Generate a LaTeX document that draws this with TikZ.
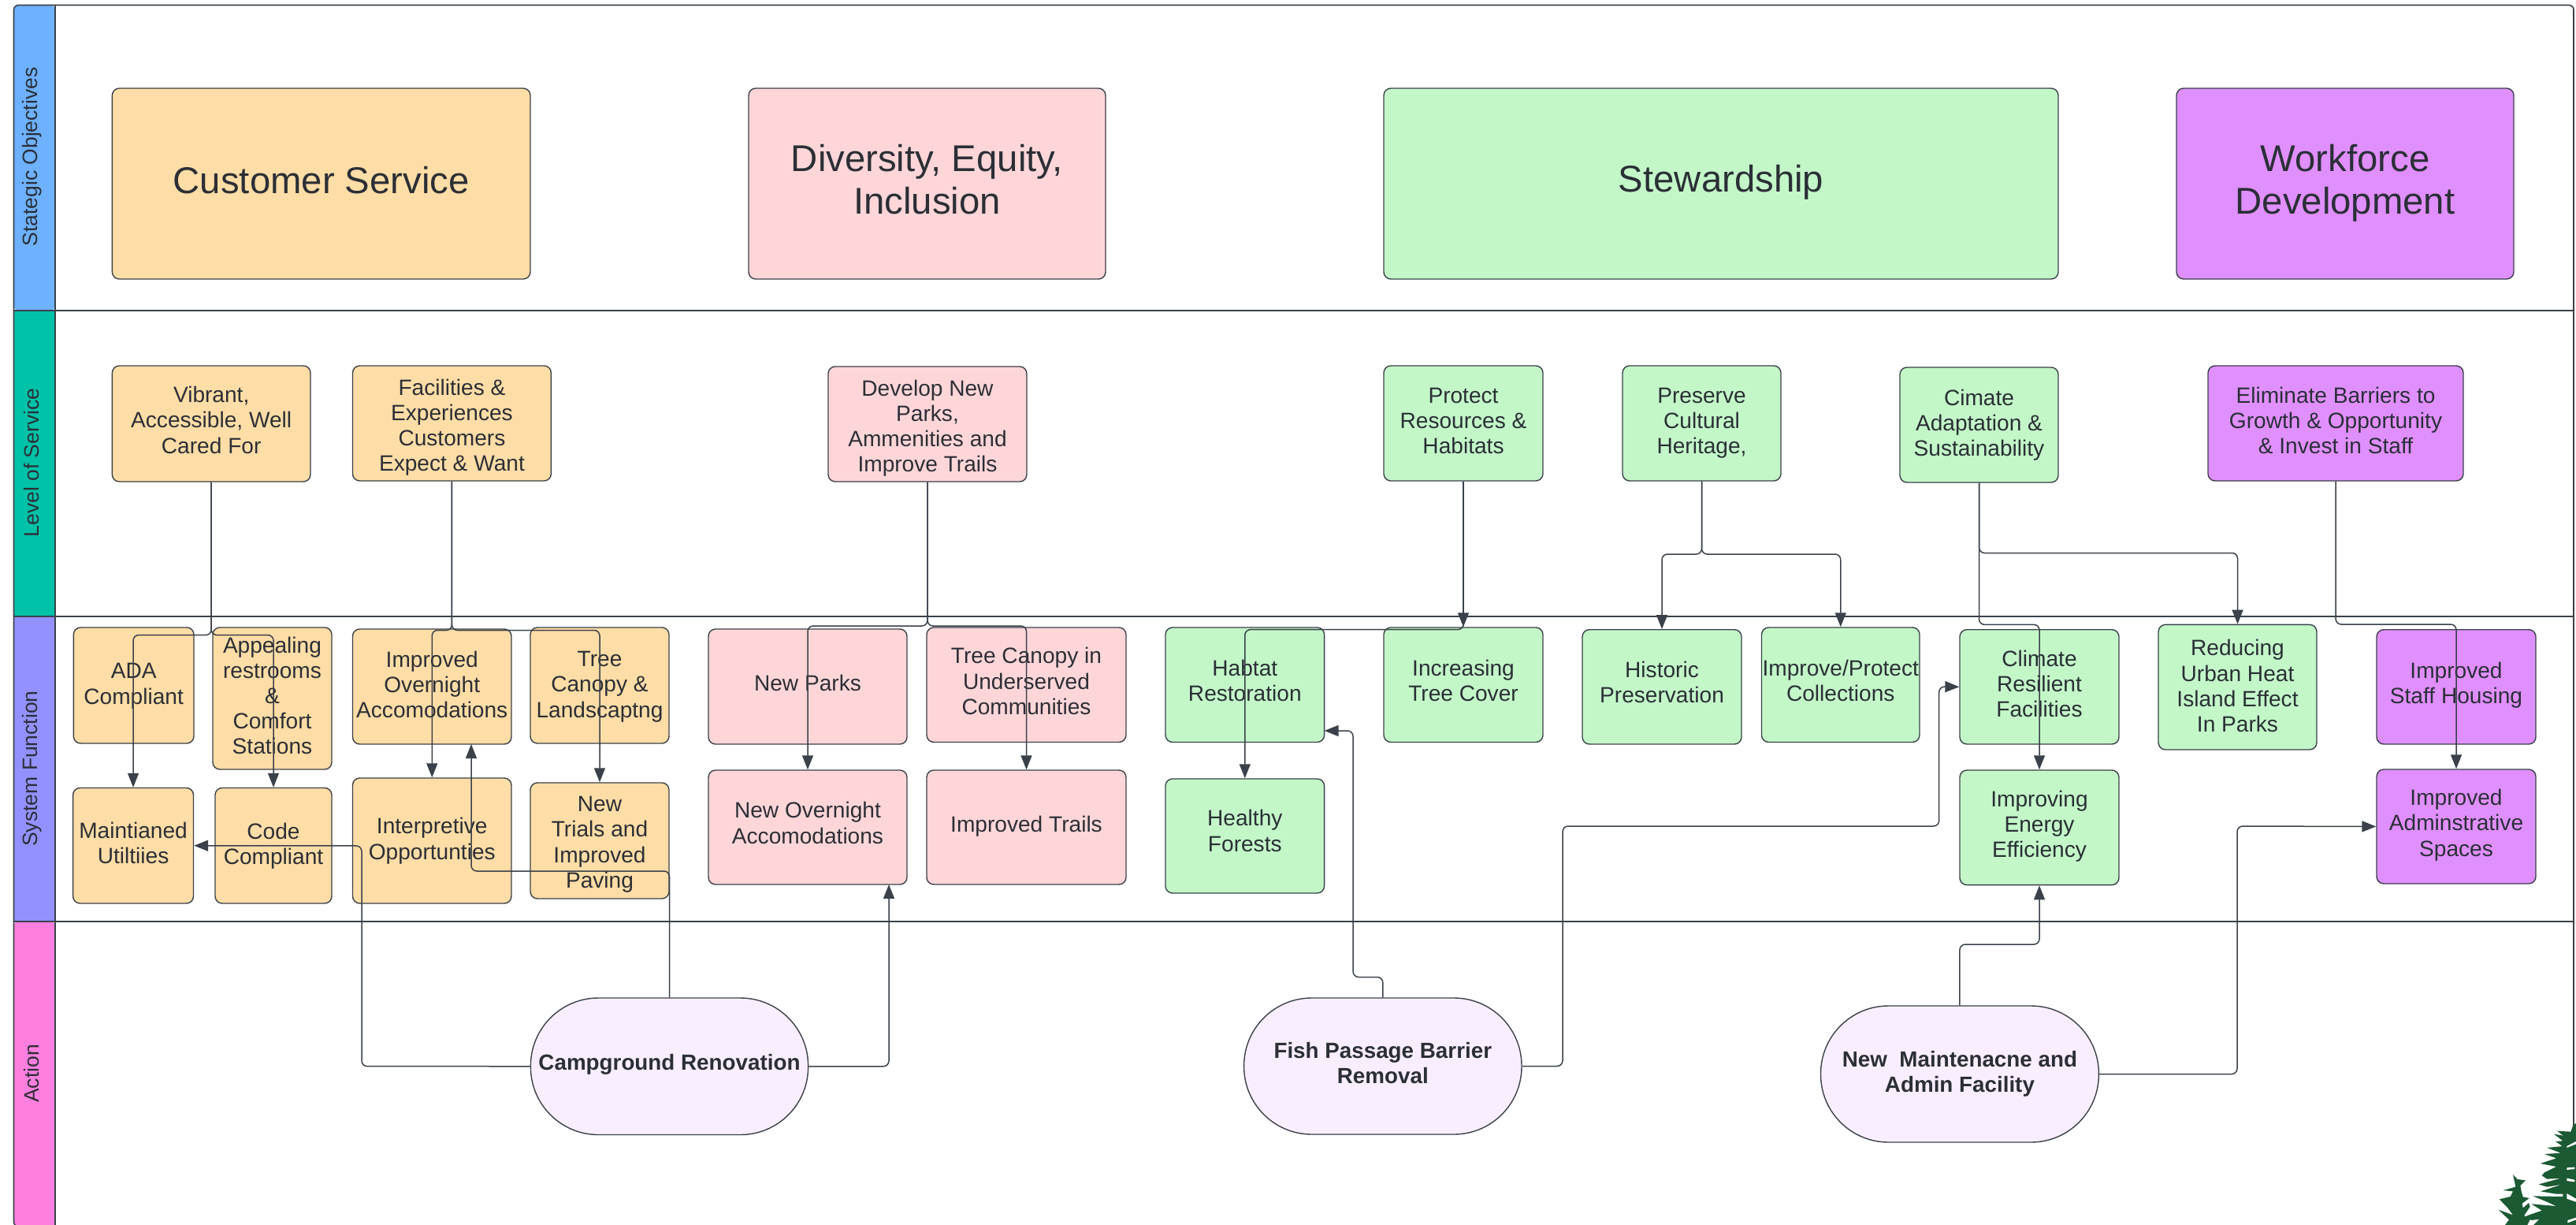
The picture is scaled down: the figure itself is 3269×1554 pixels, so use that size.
\documentclass[tikz,border=0pt]{standalone}
\usepackage{fontspec}
\setmainfont{Liberation Sans}
\usetikzlibrary{arrows.meta}
\definecolor{ink}{HTML}{3A414A}
\definecolor{txt}{HTML}{2B2F36}
\definecolor{orangefill}{HTML}{FFDDA6}
\definecolor{pinkfill}{HTML}{FFD6D8}
\definecolor{greenfill}{HTML}{C3F7C8}
\definecolor{purplefill}{HTML}{E08FFF}
\definecolor{ovalfill}{HTML}{F9EEFF}
\definecolor{laneblue}{HTML}{6DB1FF}
\definecolor{lanegreen}{HTML}{00C2A8}
\definecolor{lanepurple}{HTML}{9391FF}
\definecolor{lanepink}{HTML}{FF7FDF}
\definecolor{treegreen}{HTML}{1B5A33}
\tikzset{
  tup/.store in=\tupval, tup=0,
  card/.style={draw=ink,line width=1.4pt,rounded corners=9pt,inner sep=0pt,text=txt,font=\fontsize{28.1}{32.2}\selectfont},
  bigcard/.style={card,font=\fontsize{47.3}{53.5}\selectfont},
  orbox/.style={card,fill=orangefill},
  pkbox/.style={card,fill=pinkfill},
  grbox/.style={card,fill=greenfill},
  pubox/.style={card,fill=purplefill},
  orbig/.style={bigcard,fill=orangefill},
  pkbig/.style={bigcard,fill=pinkfill},
  grbig/.style={bigcard,fill=greenfill},
  pubig/.style={bigcard,fill=purplefill},
  ovalbox/.style={draw=ink,line width=1.4pt,rounded corners=86pt,inner sep=0pt,fill=ovalfill,text=txt,font=\fontsize{27.8}{32}\selectfont\bfseries},
  lanelabel/.style={rotate=90,text=txt,inner sep=0pt,font=\fontsize{26.5}{30}\selectfont},
  laneline/.style={draw=ink,line width=1.6pt},
  wire/.style={draw=ink,line width=1.5pt,rounded corners=7pt},
  arrowwire/.style={wire,-{Triangle[length=18pt,width=14pt]}},
}
\newcommand{\bx}[7]{\node[#6,minimum width={#4pt-#2pt},minimum height={#5pt-#3pt}] (#1) at ({(#2+#4)/2},{(#3+#5)/2}) {\raisebox{\tupval pt}[\height][\depth]{\begin{tabular}{@{}c@{}}#7\end{tabular}}};}
\begin{document}
\begin{tikzpicture}[x=1pt,y=-1pt]
\useasboundingbox (0,0) rectangle (3269,1554);
% lanes
\fill[laneblue,rounded corners=6pt] (17.5,394) |- (70,6.5) -- (70,394) -- cycle;
\fill[lanegreen] (17.5,394) rectangle (70,782);
\fill[lanepurple] (17.5,782) rectangle (70,1169);
\fill[lanepink,rounded corners=6pt] (17.5,1169) |- (70,1556) -- (70,1169) -- cycle;
\draw[laneline,rounded corners=6pt] (17.5,1556) -- (17.5,6.5) -- (3266,6.5) -- (3266,1556) -- cycle;
\draw[laneline] (70,6.5) -- (70,1556);
\draw[laneline] (17.5,394) -- (3266,394);
\draw[laneline] (17.5,782) -- (3266,782);
\draw[laneline] (17.5,1169) -- (3266,1169);
\node[lanelabel] (l1) at (40.5,199) {Stategic Objectives};
\node[lanelabel] (l2) at (40.5,587) {Level of Service};
\node[lanelabel] (l3) at (40.5,975) {System Function};
\node[lanelabel] (l4) at (40.5,1362) {Action};
% tree
\begin{scope}[shift={(3129,1404)},x=0.3333pt,y=-0.3333pt]
\clip (0,0) rectangle (420,450);
\fill[treegreen] (420,62) -- (408,72) -- (400,95) -- (348,92) -- (372,110) -- (336,104) -- (370,130) -- (342,132) -- (368,150) -- (310,156) -- (362,176) -- (300,180) -- (345,196) -- (284,216) -- (345,228) -- (300,250) -- (290,262) -- (310,275) -- (362,272) -- (278,295) -- (310,305) -- (365,296) -- (285,322) -- (345,332) -- (370,332) -- (370,342) -- (256,340) -- (300,358) -- (345,378) -- (250,370) -- (290,395) -- (232,415) -- (250,432) -- (280,428) -- (258,450) -- (420,450) -- cycle;
\fill[white] (385,150) -- (420,132) -- (420,142) -- (385,156) -- cycle;
\fill[white] (385,232) -- (415,230) -- (415,237) -- (385,240) -- cycle;
\fill[white] (385,272) -- (415,278) -- (415,286) -- (385,282) -- cycle;
\fill[white] (385,330) -- (420,350) -- (420,362) -- (385,350) -- cycle;
\fill[white] (388,432) -- (420,422) -- (420,430) -- (388,442) -- cycle;
\fill[treegreen] (180,258) -- (197,276) -- (228,280) -- (208,300) -- (212,322) -- (218,343) -- (242,348) -- (215,368) -- (218,385) -- (240,366) -- (245,380) -- (222,415) -- (250,420) -- (235,450) -- (150,450) -- (165,430) -- (125,392) -- (180,412) -- (160,385) -- (128,352) -- (170,342) -- (180,322) -- (142,318) -- (190,305) -- cycle;
\end{scope}
% strategic objectives
\bx{cs}{142.4}{112}{673}{354}{orbig,tup=-2}{Customer Service}
\bx{dei}{950}{112}{1403}{354}{pkbig,tup=-1}{Diversity, Equity,\\Inclusion}
\bx{stew}{1756}{112}{2612}{354}{grbig,tup=0}{Stewardship}
\bx{wf}{2762}{112}{3190}{354}{pubig,tup=-1}{Workforce\\Development}
% level of service
\bx{vib}{142.4}{464}{394}{611}{orbox,tup=1}{Vibrant,\\Accessible, Well\\Cared For}
\bx{fac}{447.5}{464}{699.4}{610}{orbox,tup=-6}{Facilities \&\\Experiences\\Customers\\Expect \& Want}
\bx{dev}{1051}{465}{1303}{611}{pkbox,tup=-6}{Develop New\\Parks,\\Ammenities and\\Improve Trails}
\bx{pro}{1756}{464}{1958}{610}{grbox,tup=0}{Protect\\Resources \&\\Habitats}
\bx{pre}{2059}{464}{2260}{610}{grbox,tup=0}{Preserve\\Cultural\\Heritage,}
\bx{cim}{2411}{466}{2612}{612}{grbox,tup=-1}{Cimate\\Adaptation \&\\Sustainability}
\bx{eli}{2802}{464}{3126}{610}{pubox,tup=0}{Eliminate Barriers to\\Growth \& Opportunity\\\& Invest in Staff}
% system function
\bx{ada}{93.3}{796}{246}{943}{orbox,tup=-1}{ADA\\Compliant}
\bx{app}{270}{796}{421}{976}{orbox,tup=0}{Appealing\\restrooms\\\&\\Comfort\\Stations}
\bx{ion}{447.5}{798}{649}{944}{orbox,tup=-1}{Improved\\Overnight\\Accomodations}
\bx{tre}{673}{796}{849}{943}{orbox,tup=-2}{Tree\\Canopy \&\\Landscaptng}
\bx{mai}{92.6}{999.5}{245.5}{1146}{orbox,tup=0}{Maintianed\\Utiltiies}
\bx{cod}{273}{999.5}{421}{1146}{orbox,tup=-1}{Code\\Compliant}
\bx{int}{447.5}{987}{649}{1146}{orbox,tup=-1}{Interpretive\\Opportunties}
\bx{ntr}{673}{993}{849}{1140}{orbox,tup=-5}{New\\Trials and\\Improved\\Paving}
\bx{npa}{899}{798}{1151}{944}{pkbox,tup=1}{New Parks}
\bx{nov}{899}{977}{1151}{1122}{pkbox,tup=2}{New Overnight\\Accomodations}
\bx{tci}{1176}{796}{1429}{941.5}{pkbox,tup=1}{Tree Canopy in\\Underserved\\Communities}
\bx{itr}{1176}{977}{1429}{1122}{pkbox,tup=0}{Improved Trails}
\bx{hab}{1479}{796}{1680.6}{941.5}{grbox,tup=2}{Habtat\\Restoration}
\bx{hea}{1479}{988}{1680.6}{1133}{grbox,tup=3}{Healthy\\Forests}
\bx{inc}{1756}{796}{1958}{941.5}{grbox,tup=2}{Increasing\\Tree Cover}
\bx{his}{2008}{798.7}{2210}{944}{grbox,tup=2}{Historic\\Preservation}
\bx{imp}{2235.5}{796}{2436}{941.5}{grbox,tup=2}{Improve/Protect\\Collections}
\bx{cre}{2487}{798.7}{2689}{944}{grbox,tup=0}{Climate\\Resilient\\Facilities}
\bx{ene}{2487}{977}{2689}{1122.6}{grbox,tup=1}{Improving\\Energy\\Efficiency}
\bx{red}{2739}{792.4}{2940}{951}{grbox,tup=-2}{Reducing\\Urban Heat\\Island Effect\\In Parks}
\bx{sta}{3016}{798.7}{3218}{944}{pubox,tup=1}{Improved\\Staff Housing}
\bx{adm}{3016}{976}{3218}{1121}{pubox,tup=1}{Improved\\Adminstrative\\Spaces}
% actions
\bx{cam}{673.4}{1266}{1025.6}{1439.5}{ovalbox,tup=2}{Campground Renovation}
\bx{fis}{1578.6}{1266}{1931}{1439}{ovalbox,tup=0}{Fish Passage Barrier\\Removal}
\bx{nmf}{2310.5}{1276}{2663.4}{1449}{ovalbox,tup=-1}{New\ \ Maintenacne and\\Admin Facility}
% free ends
\coordinate (ionin) at (598,944);
\coordinate (habin) at (1680.6,927);
\coordinate (novin) at (1128,1122);
% connectors
\draw[arrowwire] (vib.south) -- (vib.south |- 0,805.6) -- (mai.north |- 0,805.6) -- (mai.north);
\draw[arrowwire] (vib.south) -- (vib.south |- 0,805.6) -- (cod.north |- 0,805.6) -- (cod.north);
\draw[arrowwire] (fac.south) -- (fac.south |- 0,799.5) -- (int.north |- 0,799.5) -- (int.north);
\draw[arrowwire] (fac.south) -- (fac.south |- 0,799.5) -- (ntr.north |- 0,799.5) -- (ntr.north);
\draw[arrowwire] (dev.south) -- (dev.south |- 0,794) -- (nov.north |- 0,794) -- (nov.north);
\draw[arrowwire] (dev.south) -- (dev.south |- 0,794) -- (itr.north |- 0,794) -- (itr.north);
\draw[arrowwire] (pro.south) -- (inc.north);
\draw[arrowwire] (pro.south) -- (pro.south |- 0,798.7) -- (hea.north |- 0,798.7) -- (hea.north);
\draw[arrowwire] (pre.south) -- (pre.south |- 0,703) -- (his.north |- 0,703) -- (his.north);
\draw[arrowwire] (pre.south) -- (pre.south |- 0,703) -- (imp.north |- 0,703) -- (imp.north);
\draw[arrowwire] (cim.south) -- (cim.south |- 0,701.5) -- (red.north |- 0,701.5) -- (red.north);
\draw[arrowwire] (cim.south) -- (cim.south |- 0,792.4) -- (ene.north |- 0,792.4) -- (ene.north);
\draw[arrowwire] (eli.south) -- (eli.south |- 0,792) -- (adm.north |- 0,792) -- (adm.north);
\draw[arrowwire] (cam.north) -- (cam.north |- 0,1105) -- (ionin |- 0,1105) -- (ionin);
\draw[arrowwire] (cam.west) -- (459,1352.7) -- (459,1073) -- (mai.east);
\draw[arrowwire] (cam.east) -- (novin |- cam.east) -- (novin);
\draw[arrowwire] (fis.north) -- (fis.north |- 0,1239.5) -- (1717,1239.5) -- (1717,927) -- (habin);
\draw[arrowwire] (fis.east) -- (1983,1352.5) -- (1983,1048) -- (2460.7,1048) -- (2460.7,871) -- (cre.west);
\draw[arrowwire] (nmf.north) -- (nmf.north |- 0,1198) -- (ene.south |- 0,1198) -- (ene.south);
\draw[arrowwire] (nmf.east) -- (2839,1362.5) -- (2839,1048) -- (adm.west);
\end{tikzpicture}
\end{document}
